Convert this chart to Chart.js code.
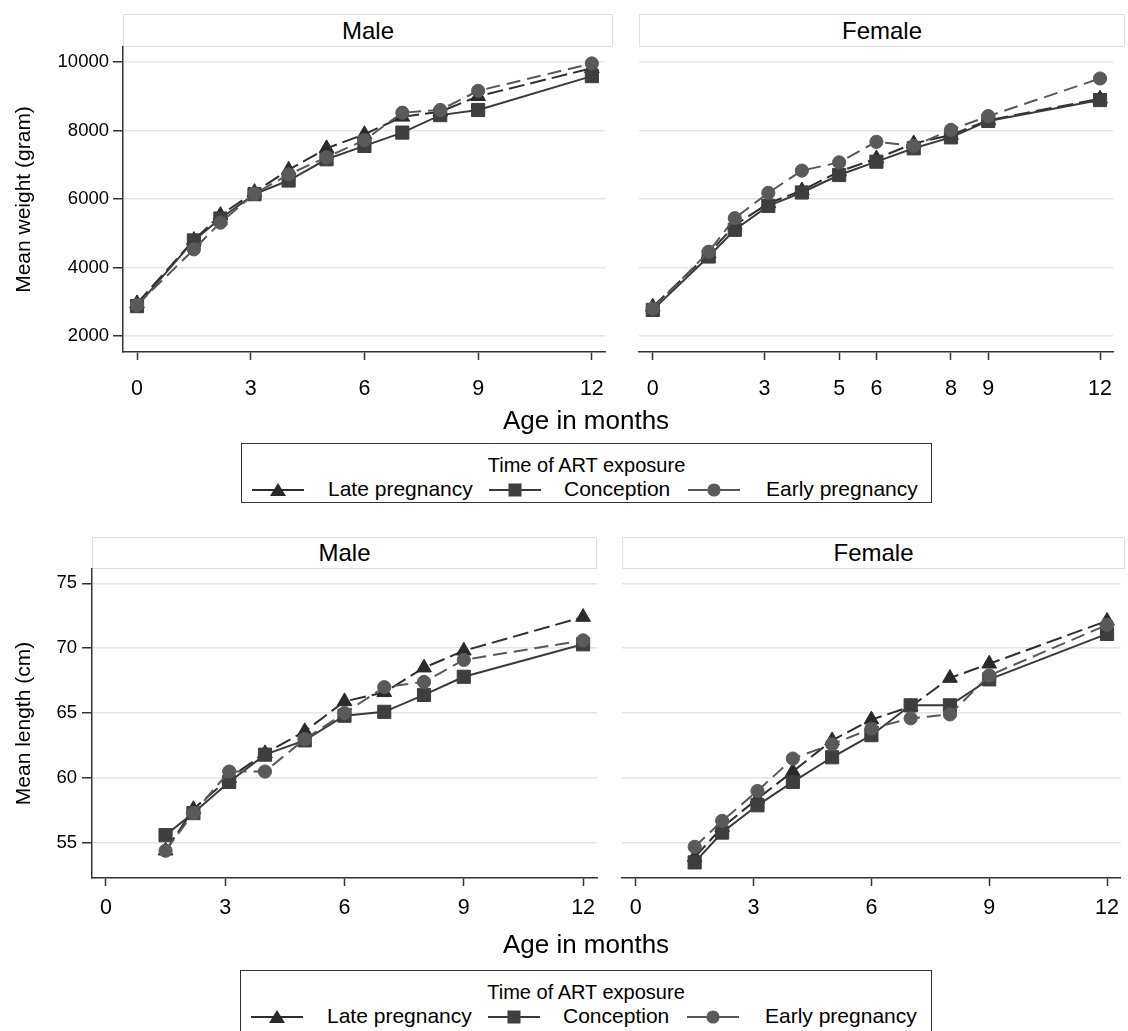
<!DOCTYPE html>
<html>
<head>
<meta charset="utf-8">
<script src="https://cdn.jsdelivr.net/npm/chart.js@4.4.0/dist/chart.umd.min.js"></script>
<style>
  body { margin: 0; background: #fff; font-family: "Liberation Sans", Arial, sans-serif; color: #000; }
  #page { position: relative; width: 1128px; height: 1031px; overflow: hidden; background: #fff; }
  canvas { position: absolute; }
  .strip { position: absolute; box-sizing: border-box; border: 1.5px solid #e0e0e0; background: #fff;
           text-align: center; font-size: 24px; }
  .xtitle { position: absolute; width: 400px; text-align: center; font-size: 26px; }
  .legend { position: absolute; box-sizing: border-box; border: 1.5px solid #333; background: #fff; }
  .legend .ttl { position: absolute; left: 0; right: 0; text-align: center; font-size: 20px; }
  .legend .sym { position: absolute; }
  .legend .lab { position: absolute; font-size: 21px; white-space: nowrap; }
</style>
</head>
<body>
<div id="page">
  <div class="strip" style="left:123px;top:14px;width:490px;height:33px;line-height:31px">Male</div>
  <div class="strip" style="left:639px;top:14px;width:486px;height:33px;line-height:31px">Female</div>
  <canvas id="wMale" width="620" height="410" style="left:0;top:0"></canvas>
  <canvas id="wFemale" width="508" height="410" style="left:620px;top:0"></canvas>
  <div class="xtitle" style="left:386px;top:405px">Age in months</div>
  <div class="legend" id="leg1" style="left:241px;top:443px;width:691px;height:60px"></div>

  <div class="strip" style="left:92px;top:537px;width:505px;height:32px;line-height:30px">Male</div>
  <div class="strip" style="left:622px;top:537px;width:503px;height:32px;line-height:30px">Female</div>
  <canvas id="lMale" width="610" height="460" style="left:0;top:480px"></canvas>
  <canvas id="lFemale" width="518" height="460" style="left:610px;top:480px"></canvas>
  <div class="xtitle" style="left:386px;top:929px">Age in months</div>
  <div class="legend" id="leg2" style="left:240px;top:970px;width:692px;height:80px"></div>
</div>
<script>
const seriesNames = ['Late pregnancy', 'Conception', 'Early pregnancy'];

// ages (months) at each visit
const ageWeight = [0, 1.5, 2.2, 3.1, 4, 5, 6, 7, 8, 9, 12];
const ageLength = [1.5, 2.2, 3.1, 4, 5, 6, 7, 8, 9, 12];

// mean weight (gram)
const maleWeightLate = [2950, 4800, 5530, 6200, 6850, 7480, 7890, 8400, 8550, 9000, 9820];
const maleWeightConception = [2870, 4790, 5430, 6140, 6540, 7160, 7550, 7940, 8450, 8600, 9590];
const maleWeightEarly = [2900, 4530, 5310, 6150, 6720, 7220, 7720, 8520, 8600, 9160, 9960];

const femaleWeightLate = [2850, 4400, 5240, 5870, 6250, 6800, 7180, 7620, 7870, 8300, 8930];
const femaleWeightConception = [2760, 4320, 5100, 5800, 6190, 6700, 7090, 7480, 7800, 8280, 8890];
const femaleWeightEarly = [2800, 4460, 5440, 6180, 6830, 7070, 7670, 7550, 8020, 8420, 9520];

// mean length (cm)
const maleLengthLate = [54.4, 57.6, 60.0, 61.9, 63.6, 65.9, 66.6, 68.5, 69.8, 72.4];
const maleLengthConception = [55.6, 57.3, 59.7, 61.8, 62.9, 64.8, 65.1, 66.4, 67.8, 70.3];
const maleLengthEarly = [54.4, 57.3, 60.5, 60.5, 63.0, 65.0, 67.0, 67.4, 69.1, 70.6];

const femaleLengthLate = [53.9, 56.2, 58.4, 60.5, 62.9, 64.5, 65.5, 67.7, 68.8, 72.1];
const femaleLengthConception = [53.5, 55.8, 57.9, 59.7, 61.6, 63.3, 65.6, 65.6, 67.6, 71.1];
const femaleLengthEarly = [54.7, 56.7, 59.0, 61.5, 62.6, 63.8, 64.6, 64.9, 67.9, 71.8];

// tick labels
const weightTicks = [2000, 4000, 6000, 8000, 10000];
const lengthTicks = [55, 60, 65, 70, 75];
const maleWeightAgeTicks = [0, 3, 6, 9, 12];
const femaleWeightAgeTicks = [0, 3, 5, 6, 8, 9, 12];
const lengthAgeTicks = [0, 3, 6, 9, 12];

const FONT = '"Liberation Sans", Arial, sans-serif';
const looks = [
  { line: '#2e2e2e', fill: '#2a2a2a', point: 'triangle', radius: 8.5, dash: [16, 6], order: 3 },
  { line: '#3a3a3a', fill: '#3e3e3e', point: 'rect', radius: 9.3, dash: [], order: 2 },
  { line: '#585858', fill: '#5a5a5a', point: 'circle', radius: 6.6, dash: [14, 7], order: 1 }
];

function points(xs, ys) {
  return xs.map((x, i) => ({ x: x, y: ys[i] }));
}

function makePanel(id, p) {
  const datasets = p.series.map((ys, i) => {
    const lk = looks[i];
    return {
      label: seriesNames[i],
      data: points(p.ages, ys),
      borderColor: lk.line,
      borderWidth: 2,
      borderDash: lk.dash,
      backgroundColor: lk.fill,
      pointBackgroundColor: lk.fill,
      pointBorderColor: lk.fill,
      pointBorderWidth: 1,
      pointStyle: lk.point,
      pointRadius: lk.radius,
      order: lk.order,
      tension: 0,
      fill: false
    };
  });

  const yScale = {
    type: 'linear', min: p.yMin, max: p.yMax,
    afterBuildTicks: s => { s.ticks = p.yTicks.map(v => ({ value: v })); },
    afterFit: s => { s.width = p.yWidth; },
    grid: { color: '#e4e4e4', lineWidth: 1.5, drawTicks: p.showY, tickLength: 10, tickColor: '#333', tickWidth: 1.5 },
    border: { display: p.showY, color: '#333', width: 1.5 },
    ticks: { display: p.showY, font: { family: FONT, size: 18.5 }, color: '#000', padding: p.yPad,
             callback: v => String(v) }
  };
  if (p.yTitle) {
    yScale.title = { display: true, text: p.yTitle, font: { family: FONT, size: 21 }, color: '#000', padding: { top: 12, bottom: 0 } };
  }

  new Chart(document.getElementById(id), {
    type: 'line',
    data: { datasets: datasets },
    options: {
      responsive: false,
      animation: false,
      layout: { padding: p.pad, autoPadding: false },
      plugins: { legend: { display: false }, tooltip: { enabled: false } },
      scales: {
        x: {
          type: 'linear', min: p.xMin, max: p.xMax,
          afterBuildTicks: s => { s.ticks = p.xTicks.map(v => ({ value: v })); },
          afterFit: s => { s.height = p.xHeight; },
          grid: { drawOnChartArea: false, drawTicks: true, tickLength: 8, tickColor: '#333', tickWidth: 1.5 },
          border: { display: true, color: '#333', width: 1.5 },
          ticks: { font: { family: FONT, size: 21.5 }, color: '#000', padding: p.xPad, maxRotation: 0, autoSkip: false,
                   callback: v => String(v) }
        },
        y: yScale
      }
    }
  });
}

makePanel('wMale', {
  ages: ageWeight, series: [maleWeightLate, maleWeightConception, maleWeightEarly],
  xTicks: maleWeightAgeTicks, yTicks: weightTicks, xMin: -0.37, xMax: 12.35, yMin: 1530, yMax: 10440,
  pad: { top: 47, right: 7, left: 0, bottom: 0 }, yWidth: 123, xHeight: 58, xPad: 16, yPad: 4,
  showY: true, yTitle: 'Mean weight (gram)'
});
makePanel('wFemale', {
  ages: ageWeight, series: [femaleWeightLate, femaleWeightConception, femaleWeightEarly],
  xTicks: femaleWeightAgeTicks, yTicks: weightTicks, xMin: -0.37, xMax: 12.35, yMin: 1530, yMax: 10440,
  pad: { top: 47, right: 0, left: 19, bottom: 0 }, yWidth: 0, xHeight: 58, xPad: 16, yPad: 4,
  showY: false
});
makePanel('lMale', {
  ages: ageLength, series: [maleLengthLate, maleLengthConception, maleLengthEarly],
  xTicks: lengthAgeTicks, yTicks: lengthTicks, xMin: -0.35, xMax: 12.35, yMin: 52.3, yMax: 76.1,
  pad: { top: 89, right: 13, left: 0, bottom: 0 }, yWidth: 92, xHeight: 62, xPad: 9, yPad: 5,
  showY: true, yTitle: 'Mean length (cm)'
});
makePanel('lFemale', {
  ages: ageLength, series: [femaleLengthLate, femaleLengthConception, femaleLengthEarly],
  xTicks: lengthAgeTicks, yTicks: lengthTicks, xMin: -0.35, xMax: 12.35, yMin: 52.3, yMax: 76.1,
  pad: { top: 89, right: 0, left: 12, bottom: 0 }, yWidth: 0, xHeight: 62, xPad: 9, yPad: 5,
  showY: false
});

// legend: a short line with the marker in its middle, then the name
function symbol(lk) {
  let m;
  if (lk.point === 'triangle') m = '<polygon points="26,2 34,15 18,15" fill="' + lk.fill + '"/>';
  else if (lk.point === 'rect') m = '<rect x="19.5" y="2.5" width="13" height="13" fill="' + lk.fill + '"/>';
  else m = '<circle cx="26" cy="9" r="6.6" fill="' + lk.fill + '"/>';
  return '<svg width="52" height="18"><line x1="0" y1="9" x2="52" y2="9" stroke="' + lk.line + '" stroke-width="2"/>' + m + '</svg>';
}

function buildLegend(id) {
  const box = document.getElementById(id);
  const symX = [10, 247, 446];
  const labX = [86, 322, 524];
  let html = '<div class="ttl" style="top:10px">Time of ART exposure</div>';
  seriesNames.forEach((name, i) => {
    html += '<div class="sym" style="left:' + symX[i] + 'px;top:37px">' + symbol(looks[i]) + '</div>';
    html += '<div class="lab" style="left:' + labX[i] + 'px;top:33px">' + name + '</div>';
  });
  box.innerHTML = html;
}
buildLegend('leg1');
buildLegend('leg2');
</script>
</body>
</html>
